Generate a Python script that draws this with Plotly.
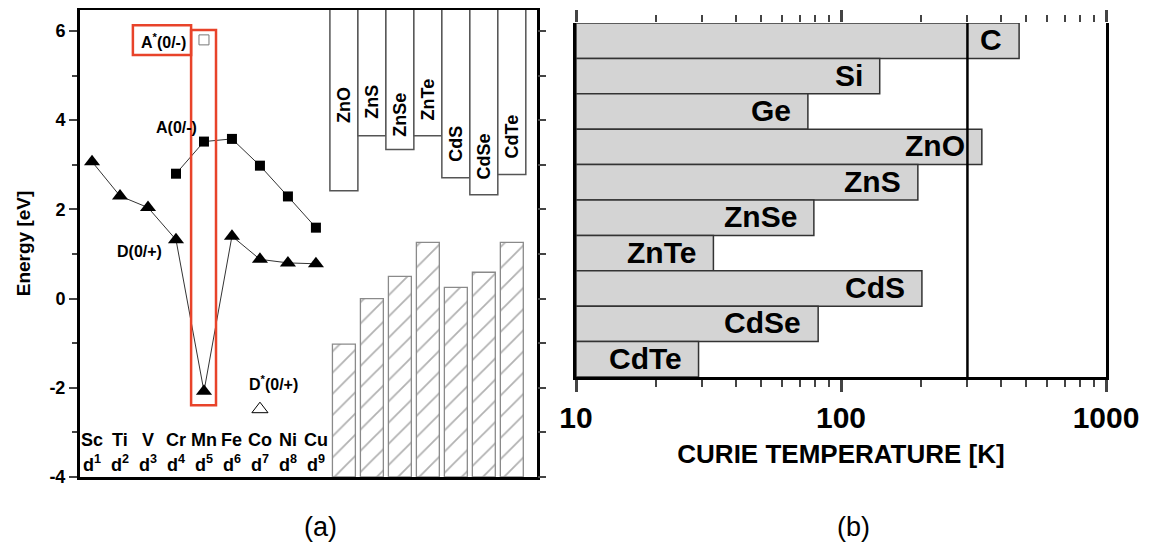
import math
import plotly.graph_objects as go

# ---------------- data ----------------
elements = ["Sc", "Ti", "V", "Cr", "Mn", "Fe", "Co", "Ni", "Cu"]
d_counts = [1, 2, 3, 4, 5, 6, 7, 8, 9]
donor_level = [3.07, 2.30, 2.04, 1.32, -2.08, 1.40, 0.88, 0.80, 0.78]        # D(0/+)
acceptor_elements = ["Cr", "Mn", "Fe", "Co", "Ni", "Cu"]
acceptor_level = [2.80, 3.52, 3.58, 2.98, 2.29, 1.59]                        # A(0/-)
a_star_element, a_star_level = "Mn", 5.80                                      # A*(0/-)
d_star_element, d_star_level = "Co", -2.48                                     # D*(0/+)

hosts = ["ZnO", "ZnS", "ZnSe", "ZnTe", "CdS", "CdSe", "CdTe"]
conduction_edge = [2.42, 3.65, 3.34, 3.65, 2.71, 2.33, 2.78]
valence_edge = [-1.02, 0.00, 0.50, 1.26, 0.25, 0.59, 1.26]
host_label_y = [4.34, 4.41, 4.12, 4.46, 3.47, 3.18, 3.63]

energy_ticks = [-4, -2, 0, 2, 4, 6]

materials = ["C", "Si", "Ge", "ZnO", "ZnS", "ZnSe", "ZnTe", "CdS", "CdSe", "CdTe"]
curie_temp = [470, 140, 75, 340, 195, 79, 33, 202, 82, 29]
room_temp = 300
temp_ticks = [10, 100, 1000]

# ---------------- layout helpers ----------------
W, H = 1154, 554
PAGE_OFFSET = 8          # default body margin of the html page
Y_MIN, Y_MAX = -4.0, 6.47
T_BASE = 10
FONT = "Liberation Sans"
RED = "#e8432a"

def fx(p):
    return (p - PAGE_OFFSET) / W

def fy(p):
    return 1 - (p - PAGE_OFFSET) / H

el_x = {e: i + 1 for i, e in enumerate(elements)}
host_x = [len(elements) + 1 + i for i in range(len(hosts))]

fig = go.Figure()

# upper (conduction band) boxes hanging from the top
fig.add_trace(go.Bar(
    x=host_x, base=conduction_edge, y=[Y_MAX + 1 - v for v in conduction_edge],
    width=1.0, marker=dict(color="white", line=dict(color="#555", width=1.5)),
    xaxis="x", yaxis="y", showlegend=False, hoverinfo="skip"))

# lower hatched (valence band) bars
fig.add_trace(go.Bar(
    x=host_x, base=Y_MIN, y=[v - Y_MIN for v in valence_edge],
    width=0.82,
    marker=dict(color="white", line=dict(color="#8a8a8a", width=1.3),
                pattern=dict(shape="/", fgcolor="#666", bgcolor="white", size=15, solidity=0.12)),
    xaxis="x", yaxis="y", showlegend=False, hoverinfo="skip"))

# donor levels
fig.add_trace(go.Scatter(
    x=[el_x[e] for e in elements], y=donor_level, mode="lines+markers",
    line=dict(color="#333", width=1),
    marker=dict(symbol="triangle-up", size=14, color="black"),
    xaxis="x", yaxis="y", showlegend=False))

# acceptor levels
fig.add_trace(go.Scatter(
    x=[el_x[e] for e in acceptor_elements], y=acceptor_level, mode="lines+markers",
    line=dict(color="#333", width=1),
    marker=dict(symbol="square", size=10, color="black"),
    xaxis="x", yaxis="y", showlegend=False))

# A* and D*
fig.add_trace(go.Scatter(
    x=[el_x[a_star_element]], y=[a_star_level], mode="markers",
    marker=dict(symbol="square-open", size=10, color="#777", line=dict(width=1)),
    xaxis="x", yaxis="y", showlegend=False))
fig.add_trace(go.Scatter(
    x=[el_x[d_star_element]], y=[d_star_level], mode="markers",
    marker=dict(symbol="triangle-up-open", size=14, color="black", line=dict(width=1)),
    xaxis="x", yaxis="y", showlegend=False))

# invisible trace to show the right-hand tick axis
fig.add_trace(go.Scatter(x=[None], y=[None], xaxis="x", yaxis="y2", showlegend=False))

# ---------------- panel (b) ----------------
fig.add_trace(go.Bar(
    y=list(range(len(materials))), x=[t - T_BASE for t in curie_temp], base=T_BASE,
    orientation="h", width=1.0,
    marker=dict(color="#d4d4d4", line=dict(color="#333", width=1.5)),
    xaxis="x2", yaxis="y3", showlegend=False, hoverinfo="skip"))

fig.add_trace(go.Scatter(
    x=[room_temp, room_temp], y=[-0.5, len(materials) - 0.5], mode="lines",
    line=dict(color="black", width=2.5),
    xaxis="x2", yaxis="y3", showlegend=False, hoverinfo="skip"))

# invisible trace to show the top tick axis
fig.add_trace(go.Scatter(x=[None], y=[None], xaxis="x3", yaxis="y3", showlegend=False))

annotations = []
bold = dict(family=FONT, color="black", weight="bold")

for i, m in enumerate(materials):
    annotations.append(dict(
        x=math.log10(curie_temp[i]), y=i, xref="x2", yref="y3", text=f"<b>{m}</b>",
        showarrow=False, xanchor="right", yanchor="middle", xshift=-15, yshift=1,
        font=dict(size=30, **bold)))

for i, h in enumerate(hosts):
    annotations.append(dict(
        x=host_x[i], y=host_label_y[i], xref="x", yref="y", text=f"<b>{h}</b>",
        showarrow=False, textangle=-90, font=dict(size=18, **bold)))

for e, n in zip(elements, d_counts):
    annotations.append(dict(x=el_x[e], y=-3.17, xref="x", yref="y", text=f"<b>{e}</b>",
                            showarrow=False, font=dict(size=18, **bold)))
    annotations.append(dict(x=el_x[e], y=-3.70, xref="x", yref="y",
                            text=f"<b>d<sup>{n}</sup></b>",
                            showarrow=False, font=dict(size=18, **bold)))

annotations += [
    dict(x=el_x[a_star_element], y=a_star_level, xref="x", yref="y",
         text="<b>A<sup>*</sup>(0/-)</b>", showarrow=False, xanchor="right", xshift=-16, yshift=-1,
         font=dict(size=16, **bold)),
    dict(x=el_x["Mn"], y=acceptor_level[1], xref="x", yref="y",
         text="<b>A(0/-)</b>", showarrow=False, xanchor="right", xshift=-5, yshift=14,
         font=dict(size=16, **bold)),
    dict(x=el_x["Cr"], y=donor_level[3], xref="x", yref="y",
         text="<b>D(0/+)</b>", showarrow=False, xanchor="right", xshift=-12, yshift=-12,
         font=dict(size=16, **bold)),
    dict(x=el_x[d_star_element], y=d_star_level, xref="x", yref="y",
         text="<b>D<sup>*</sup>(0/+)</b>", showarrow=False, xanchor="center", xshift=14, yshift=26,
         font=dict(size=16, **bold)),
    dict(x=fx(320), y=fy(527), xref="paper", yref="paper", text="(a)", showarrow=False,
         xanchor="center", yanchor="middle",
         font=dict(family=FONT, size=27, color="black")),
    dict(x=fx(853), y=fy(527), xref="paper", yref="paper", text="(b)", showarrow=False,
         xanchor="center", yanchor="middle",
         font=dict(family=FONT, size=27, color="black")),
]

mn = el_x["Mn"]
shapes = [
    dict(type="rect", xref="x", yref="y", x0=mn - 2.54, x1=mn - 0.46, y0=5.46, y1=6.13,
         line=dict(color=RED, width=2.5)),
    dict(type="rect", xref="x", yref="y", x0=mn - 0.46, x1=mn + 0.43, y0=-2.39, y1=6.02,
         line=dict(color=RED, width=2.5)),
]

minor_vals = [m * 10 ** e for e in (1, 2) for m in range(2, 10)]

log_axis_common = dict(
    type="log", range=[1, 3], tickvals=temp_ticks,
    ticks="outside", ticklen=12, tickwidth=2.5,
    minor=dict(tickvals=minor_vals, ticks="outside", ticklen=7, tickwidth=2, showgrid=False),
    showgrid=False, zeroline=False, automargin=False,
)

fig.update_layout(
    width=W, height=H, margin=dict(l=0, r=0, t=0, b=0),
    paper_bgcolor="white", plot_bgcolor="white",
    barmode="overlay", showlegend=False,
    font=dict(family=FONT, color="black"),
    xaxis=dict(domain=[fx(80), fx(537)], range=[0.57, 16.9], anchor="y",
               showticklabels=False, ticks="", showgrid=False, zeroline=False,
               showline=True, linewidth=3, linecolor="black", mirror=True, automargin=False),
    yaxis=dict(domain=[fy(477), fy(10)], range=[Y_MIN, Y_MAX], anchor="x",
               tickvals=energy_ticks, ticktext=[f"<b>{v}</b>" for v in energy_ticks],
               ticks="outside", ticklen=8, tickwidth=2,
               minor=dict(dtick=1, tick0=0, ticks="outside", ticklen=5, tickwidth=2, showgrid=False),
               tickfont=dict(size=18, **bold), showgrid=False, zeroline=False,
               showline=True, linewidth=3, linecolor="black", mirror=True, automargin=False,
               title=dict(text="<b>Energy [eV]</b>", font=dict(size=19, **bold), standoff=14)),
    yaxis2=dict(overlaying="y", side="right", anchor="x", range=[Y_MIN, Y_MAX],
                tick0=0, dtick=1, ticks="outside", ticklen=8, tickwidth=2,
                showticklabels=False, showgrid=False, zeroline=False, showline=False,
                automargin=False),
    xaxis2=dict(domain=[fx(576), fx(1106)], anchor="y3",
                ticktext=[f"<b>{v}</b>" for v in temp_ticks],
                tickfont=dict(size=30, **bold),
                showline=True, linewidth=3, linecolor="black",
                title=dict(text="<b>CURIE TEMPERATURE [K]</b>", font=dict(size=26, **bold), standoff=12),
                **log_axis_common),
    xaxis3=dict(overlaying="x2", side="top", anchor="y3", showticklabels=False,
                showline=False, **log_axis_common),
    yaxis3=dict(domain=[fy(377), fy(23)], range=[len(materials) - 0.5, -0.5], anchor="x2",
                showticklabels=False, ticks="", showgrid=False, zeroline=False,
                showline=True, linewidth=3, linecolor="black", mirror=True, automargin=False),
    annotations=annotations, shapes=shapes,
)

fig.write_html("out.html")
